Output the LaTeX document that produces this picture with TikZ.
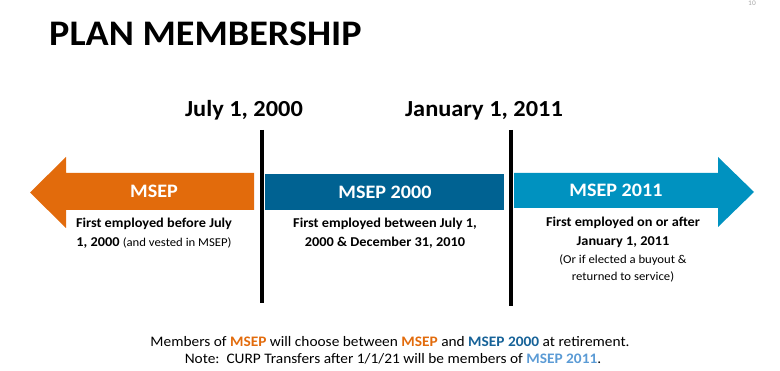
\documentclass[tikz,border=0pt]{standalone}
\usepackage{fontspec}
\setmainfont{Carlito}[FakeStretch=1.06]
\usetikzlibrary{positioning}
\definecolor{msepor}{RGB}{226,107,12}
\definecolor{msepdk}{RGB}{0,98,146}
\definecolor{mseplt}{RGB}{0,146,192}
\definecolor{notedk}{RGB}{22,98,152}
\definecolor{notelt}{RGB}{91,155,213}
\newcommand{\aside}{\fontsize{12}{17}\selectfont\mdseries}

\begin{document}
\begin{tikzpicture}[
  x=1pt, y=-1pt,
  title/.style   = {anchor=base west, inner sep=0pt,
                    font=\fontsize{36}{40}\selectfont\bfseries},
  date/.style    = {anchor=base, inner sep=0pt,
                    font=\fontsize{23}{26}\selectfont\bfseries},
  band/.style    = {text=white, inner sep=0pt,
                    font=\fontsize{19}{22}\selectfont\bfseries},
  desc/.style    = {anchor=north, align=center, inner sep=0pt,
                    font=\fontsize{13.5}{19}\selectfont\bfseries},
  note/.style    = {anchor=base, inner sep=0pt,
                    font=\fontsize{14.5}{17}\selectfont},
  divider/.style = {line width=4.5pt}
]
  \useasboundingbox (0,0) rectangle (780,371);

  %% Heading
  \node[title] (title) at (49,46) {PLAN MEMBERSHIP};
  \node[anchor=north, inner sep=0pt, text=gray!70,
        font=\fontsize{7}{8}\selectfont] (page) at (752,0.5) {10};

  %% Dates and dividers
  \node[date] (d2000) at (244,117) {July 1, 2000};
  \node[date] (d2011) at (484,117) {January 1, 2011};
  \coordinate (c1top) at (262,130);
  \coordinate (c1bot) at (262,303);
  \coordinate (c2top) at (511,130);
  \coordinate (c2bot) at (511,306);

  %% Bands
  \fill[msepor] (254,173) -- (66,173) -- (66,157) -- (30,192.5)
                -- (66,228) -- (66,210) -- (254,210) -- cycle;
  \fill[msepdk] (265,174) rectangle (504,210);
  \fill[mseplt] (514,173) -- (718,173) -- (718,157) -- (754,192)
                -- (718,227) -- (718,208) -- (514,208) -- cycle;

  \draw[divider] (c1top) -- (c1bot);
  \draw[divider] (c2top) -- (c2bot);

  \node[band] (msep)     at (154,191.5) {MSEP};
  \node[band] (msep2000) at (385,192)   {MSEP 2000};
  \node[band] (msep2011) at (616,190.5) {MSEP 2011};

  %% Who belongs where
  \node[desc] (who1) at (154,218)
       {First employed before July\\
        1, 2000 {\aside(and vested in MSEP)}};
  \node[desc] (who2) at (385,218)
       {First employed between July 1,\\ 2000 \& December 31, 2010};
  \node[desc] (who3) at (623,217)
       {First employed on or after\\ January 1, 2011\\[-1.5pt]
        {\aside(Or if elected a buyout \&}\\[-1.5pt]
        {\aside returned to service)}};

  %% Footnote
  \node[note] (note1) at (390,347)
       {Members of \textbf{\color{msepor}MSEP} will choose between
        \textbf{\color{msepor}MSEP} and \textbf{\color{notedk}MSEP 2000}
        at retirement.};
  \node[note] (note2) at (393,364)
       {Note:\ \ CURP Transfers after 1/1/21 will be members of
        \textbf{\color{notelt}MSEP 2011}.};
\end{tikzpicture}
\end{document}
